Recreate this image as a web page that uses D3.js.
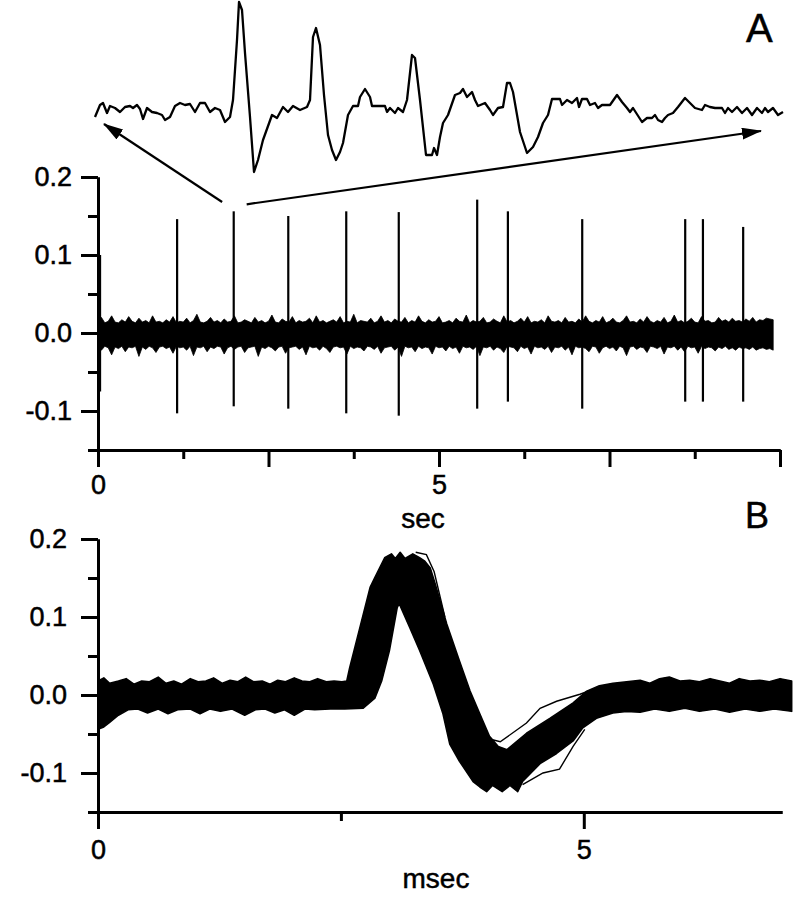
<!DOCTYPE html>
<html>
<head>
<meta charset="utf-8">
<script src="https://d3js.org/d3.v7.min.js"></script>
<style>
body { margin: 0; background: #fff; }
text { font-family: "Liberation Sans", Arial, sans-serif; fill: #000; stroke: #000; stroke-width: 0.5px; }
</style>
</head>
<body>
<div id="fig"></div>
<script>

// ---- panel A: spikes in the raw trace (sec, peak, trough) ----
var spikeTimes = [0.03, 1.16, 1.99, 2.79, 3.64, 4.41, 5.56, 6.01, 7.10, 8.61, 8.87, 9.46];
var spikeMax   = [0.100, 0.146, 0.156, 0.150, 0.156, 0.155, 0.171, 0.156, 0.146, 0.146, 0.146, 0.136];
var spikeMin   = [-0.075, -0.103, -0.094, -0.097, -0.103, -0.106, -0.097, -0.088, -0.097, -0.088, -0.088, -0.088];

// background noise band, one value every 0.05 sec, units of 0.001
var noiseStep = 0.05;
var noiseTop = [
  14,20,13,15,22,14,13,17,14,21,15,13,19,14,16,13,22,14,15,13,
  17,14,21,13,15,14,19,13,16,24,14,13,15,20,14,16,13,18,14,15,
  22,13,14,17,15,13,20,14,16,13,15,23,14,13,18,15,14,21,13,16,
  14,15,19,13,22,14,16,13,15,17,14,21,13,15,14,24,13,16,15,14,
  19,13,15,22,14,16,13,18,15,14,20,13,16,14,22,15,13,17,14,15,
  21,13,14,16,13,19,15,14,23,13,16,14,15,20,13,14,18,15,13,22,
  14,16,13,15,19,14,21,13,15,14,17,13,22,15,14,16,13,20,14,15,
  13,18,14,22,15,13,16,14,21,13,15,19,14,13,16,22,14,15,13,18,
  14,21,15,13,16,14,20,13,15,23,14,16,13,15,19,14,13,21,15,16,
  13,14,20,15,17,14,19,15,16,14,18,15,20,14,17,16,19,18,17];
var noiseBottom = [
  -18,-22,-17,-19,-28,-18,-20,-17,-24,-18,-19,-17,-30,-18,-21,-17,-19,-25,-18,-17,
  -20,-18,-26,-17,-19,-18,-22,-17,-29,-18,-19,-17,-24,-18,-20,-17,-18,-27,-19,-17,
  -21,-18,-17,-25,-19,-18,-17,-30,-18,-20,-17,-19,-23,-18,-17,-26,-19,-18,-17,-21,
  -18,-28,-17,-19,-18,-22,-17,-20,-25,-18,-17,-19,-18,-27,-17,-20,-18,-19,-23,-17,
  -18,-21,-17,-26,-19,-18,-17,-22,-18,-30,-17,-19,-18,-24,-17,-20,-18,-19,-27,-17,
  -19,-18,-23,-17,-20,-18,-26,-17,-19,-18,-21,-17,-29,-18,-19,-17,-22,-18,-20,-25,
  -17,-18,-19,-24,-17,-20,-18,-27,-17,-19,-18,-21,-17,-25,-18,-19,-17,-22,-18,-28,
  -17,-19,-18,-20,-24,-17,-18,-26,-19,-17,-20,-18,-23,-17,-19,-29,-18,-17,-21,-18,
  -19,-25,-17,-18,-20,-17,-27,-18,-19,-17,-22,-18,-24,-17,-19,-18,-26,-17,-20,-18,
  -19,-23,-18,-20,-17,-21,-19,-22,-18,-20,-19,-21,-18,-22,-20,-19,-21,-20,-22];

// expanded piece of the trace shown above panel A (ms, arbitrary units)
var insetTime = [
  0.0,0.5,0.8,1.2,1.5,2.0,2.5,3.0,3.5,3.8,4.2,4.5,4.8,5.2,5.7,6.2,6.7,7.0,7.5,8.0,
  8.5,9.0,9.5,10.0,10.5,11.0,11.5,12.0,12.5,13.0,13.5,13.8,14.2,14.4,14.7,15.0,15.5,15.9,16.3,16.8,
  17.7,18.2,18.8,19.3,19.8,20.5,21.2,21.5,21.8,22.1,22.5,22.9,23.3,23.7,24.1,24.5,24.8,25.3,25.8,26.3,
  26.5,27.0,27.5,27.7,29.0,29.2,29.5,30.0,30.3,30.8,31.2,31.7,32.0,32.5,33.1,33.7,33.9,34.2,34.5,34.8,
  35.3,36.0,36.5,36.8,37.2,37.7,38.0,38.3,39.0,39.5,39.8,40.3,40.8,41.2,41.5,41.8,42.5,43.2,43.8,44.3,
  44.8,45.3,45.7,46.5,46.7,47.2,47.7,48.2,48.4,48.7,49.2,49.5,50.0,50.3,50.7,51.5,52.2,52.7,53.2,53.5,
  53.8,54.7,55.2,55.7,56.0,56.3,56.7,57.0,57.3,57.8,58.3,59.0,59.5,60.0,60.7,61.0,61.5,62.0,62.7,63.0,
  63.3,63.7,64.2,64.7,65.2,65.7,66.2,66.7,67.0,67.3,67.8,68.3,68.8];
var insetValue = [
  -9,3,5,-5,2,0,-4,1,2,0,3,-1,-11,0,-4,-5,-7,-12,-9,2,
  5,3,4,-4,5,5,-4,0,-2,-14,-9,8,68,106,98,55,-9,-64,-52,-32,
  -7,-10,1,-4,2,-2,1,8,71,80,63,13,-27,-42,-52,-44,-35,-7,2,2,
  11,19,11,2,2,-4,0,-5,0,-4,8,53,50,8,-47,-47,-40,-47,-29,-15,
  -7,13,15,19,11,16,8,2,5,-2,-7,0,1,25,25,16,-24,-45,-39,-29,
  -15,-7,9,9,3,8,5,10,1,9,9,3,5,0,3,3,13,6,0,-4,
  0,-14,-10,-10,-7,-12,-14,-10,-7,-5,1,10,5,0,-2,3,1,0,0,-5,
  0,-4,1,-5,0,-7,0,-5,0,-4,0,-7,-4];

// ---- panel B: envelope of the superimposed waveforms (msec, units of 0.001) ----
var bandTopTime = [
  0.00,0.06,0.12,0.21,0.29,0.37,0.45,0.53,0.62,0.70,0.78,0.86,0.95,1.03,1.11,1.19,1.28,1.36,1.44,1.52,
  1.60,1.69,1.77,1.85,1.93,2.02,2.10,2.18,2.26,2.35,2.43,2.51,2.56,2.59,2.70,2.80,2.85,2.95,3.02,3.06,
  3.11,3.16,3.24,3.31,3.36,3.42,3.47,3.59,3.72,3.83,3.93,4.03,4.12,4.21,4.41,4.65,4.89,5.03,5.16,5.30,
  5.44,5.58,5.68,5.78,5.88,5.99,6.09,6.19,6.30,6.40,6.50,6.60,6.71,6.81,6.91,7.02,7.14];
var bandTopValue = [
  18,22,15,18,21,14,18,17,23,15,18,14,21,17,18,22,15,19,17,23,
  17,18,14,19,17,22,18,17,21,17,18,17,18,35,89,138,151,176,181,175,
  183,175,181,176,172,163,143,91,44,5,-24,-53,-66,-70,-49,-30,-10,5,12,15,
  17,19,15,21,23,18,19,17,21,18,15,21,18,19,17,21,18];
var bandBottomTime = [
  0.00,0.06,0.12,0.21,0.31,0.41,0.51,0.62,0.72,0.82,0.95,1.05,1.15,1.26,1.38,1.51,1.62,1.72,1.82,1.92,
  2.02,2.13,2.23,2.39,2.54,2.73,2.85,2.92,3.00,3.08,3.10,3.21,3.31,3.45,3.55,3.62,3.72,3.86,3.93,4.00,
  4.06,4.16,4.24,4.32,4.37,4.55,4.72,4.89,4.99,5.13,5.30,5.44,5.58,5.73,5.88,6.04,6.19,6.35,6.50,6.66,
  6.81,6.96,7.14];
var bandBottomValue = [
  -44,-41,-35,-26,-19,-18,-23,-18,-24,-19,-18,-24,-18,-21,-18,-26,-19,-18,-23,-19,
  -26,-18,-19,-18,-18,-17,-4,18,57,112,117,86,57,14,-24,-63,-85,-111,-118,-124,
  -116,-124,-116,-124,-111,-88,-75,-59,-42,-30,-23,-21,-22,-18,-21,-17,-21,-18,-22,-18,
  -21,-18,-21];

// single traces that stand out of the bundle
var strayPeakTime  = [3.27, 3.38, 3.46, 3.57];
var strayPeakValue = [183, 180, 158, 100];
var strayHighTime  = [4.05, 4.14, 4.41, 4.55, 4.72, 4.96, 5.16];
var strayHighValue = [-57, -60, -36, -17, -8, 1, 10];
var strayLowTime   = [4.37, 4.58, 4.75, 4.89, 5.01];
var strayLowValue  = [-115, -100, -95, -66, -44];

// ticks
var yTicks = [-0.1, 0, 0.1, 0.2];
var yMinor = [-0.15, -0.05, 0.05, 0.15];
var secMajor = [0, 2.5, 5, 7.5, 10];
var secMinor = [1.25, 3.75, 6.25, 8.75];
var secLabels = [0, 5];
var msMajor = [0, 5];
var msMinor = [2.5];
var msLabels = [0, 5];

var font = "Liberation Sans, Arial, sans-serif";

var svg = d3.select("#fig")
  .append("svg")
    .attr("width", 800)
    .attr("height", 900);

// scales
var xA = d3.scaleLinear().domain([0, 10]).range([98, 780]);
var yA = d3.scaleLinear().domain([-0.15, 0.2]).range([450, 177]);
var xB = d3.scaleLinear().domain([0, 7.04]).range([98, 782]);
var yB = d3.scaleLinear().domain([-0.15, 0.2]).range([812, 539]);
var xIn = d3.scaleLinear().domain([0, 69]).range([95, 785]);
var yIn = d3.scaleLinear().domain([0, 100]).range([108, 8]);

// arrow head
svg.append("defs").append("marker")
    .attr("id", "head")
    .attr("viewBox", "0 0 20 12")
    .attr("refX", 19)
    .attr("refY", 6)
    .attr("markerWidth", 20)
    .attr("markerHeight", 12)
    .attr("markerUnits", "userSpaceOnUse")
    .attr("orient", "auto")
  .append("path")
    .attr("d", "M0,0L20,6L0,12Z")
    .attr("fill", "#000");

// ---------- panel A ----------
// noise band
var noise = d3.area()
  .x(function(d, i) { return xA(i * noiseStep); })
  .y0(function(d, i) { return yA(noiseBottom[i] / 1000); })
  .y1(function(d) { return yA(d / 1000); });

svg.append("path")
  .datum(noiseTop)
  .attr("d", noise)
  .attr("fill", "#000")
  .attr("stroke", "#000")
  .attr("stroke-width", 0.8);

// spikes
svg.selectAll(".spike")
  .data(spikeTimes)
  .enter()
  .append("line")
    .attr("class", "spike")
    .attr("x1", function(d) { return xA(d); })
    .attr("x2", function(d) { return xA(d); })
    .attr("y1", function(d, i) { return yA(spikeMax[i]); })
    .attr("y2", function(d, i) { return yA(spikeMin[i]); })
    .attr("stroke", "#000")
    .attr("stroke-width", 2.2);

function styleAxis(g, size) {
  g.attr("font-size", size).attr("font-family", font);
  g.select(".domain").attr("stroke-width", 3);
  g.selectAll(".tick line").attr("stroke-width", 3);
  g.selectAll(".tick text").attr("fill", "#000");
}

function yAxes(scale, pad) {
  var gMinor = svg.append("g")
    .attr("transform", "translate(98,0)")
    .call(d3.axisLeft(scale).tickValues(yMinor).tickSize(10).tickSizeOuter(0).tickFormat(""));
  styleAxis(gMinor, 27);
  var gMajor = svg.append("g")
    .attr("transform", "translate(98,0)")
    .call(d3.axisLeft(scale).tickValues(yTicks).tickSize(17).tickSizeOuter(0)
      .tickPadding(pad)
      .tickFormat(function(d) { return d.toFixed(1); }));
  styleAxis(gMajor, 27);
}

function xAxes(scale, yPos, major, minor, labels, pad) {
  var gMinor = svg.append("g")
    .attr("transform", "translate(0," + yPos + ")")
    .call(d3.axisBottom(scale).tickValues(minor).tickSize(9).tickSizeOuter(0).tickFormat(""));
  styleAxis(gMinor, 27);
  var gMajor = svg.append("g")
    .attr("transform", "translate(0," + yPos + ")")
    .call(d3.axisBottom(scale).tickValues(major).tickSize(17).tickSizeOuter(0)
      .tickPadding(pad)
      .tickFormat(function(d) { return labels.indexOf(d) >= 0 ? d : ""; }));
  styleAxis(gMajor, 27);
}

yAxes(yA, 9);
xAxes(xA, 450, secMajor, secMinor, secLabels, 8);

svg.append("text")
  .attr("x", 423)
  .attr("y", 528)
  .attr("text-anchor", "middle")
  .attr("font-size", 28)
  .text("sec");

svg.append("text")
  .attr("x", 746)
  .attr("y", 42)
  .attr("font-size", 40)
  .text("A");

// inset trace
var insetLine = d3.line()
  .x(function(d, i) { return xIn(insetTime[i]); })
  .y(function(d) { return yIn(d); });

svg.append("path")
  .datum(insetValue)
  .attr("d", insetLine)
  .attr("fill", "none")
  .attr("stroke", "#000")
  .attr("stroke-width", 2.3)
  .attr("stroke-linejoin", "round");

// arrows from the expanded spike to the ends of the inset
svg.append("line")
  .attr("x1", xA(1.82)).attr("y1", yA(0.168))
  .attr("x2", xIn(0.9)).attr("y2", yIn(-16))
  .attr("stroke", "#000")
  .attr("stroke-width", 2.2)
  .attr("marker-end", "url(#head)");

svg.append("line")
  .attr("x1", xA(2.18)).attr("y1", yA(0.165))
  .attr("x2", xIn(66.6)).attr("y2", yIn(-23))
  .attr("stroke", "#000")
  .attr("stroke-width", 2.2)
  .attr("marker-end", "url(#head)");

// ---------- panel B ----------
var bandPoints = bandTopTime.map(function(t, i) { return [t, bandTopValue[i]]; })
  .concat(bandBottomTime.map(function(t, i) { return [t, bandBottomValue[i]]; }).reverse());

var bandLine = d3.line()
  .x(function(d) { return xB(d[0]); })
  .y(function(d) { return yB(d[1] / 1000); })
  .curve(d3.curveLinearClosed);

svg.append("path")
  .datum(bandPoints)
  .attr("d", bandLine)
  .attr("fill", "#000")
  .attr("stroke", "#000")
  .attr("stroke-width", 1.5)
  .attr("stroke-linejoin", "round");

var strayLine = d3.line()
  .x(function(d) { return xB(d[0]); })
  .y(function(d) { return yB(d[1] / 1000); });

[[strayPeakTime, strayPeakValue], [strayHighTime, strayHighValue], [strayLowTime, strayLowValue]]
  .forEach(function(s) {
    svg.append("path")
      .datum(s[0].map(function(t, i) { return [t, s[1][i]]; }))
      .attr("d", strayLine)
      .attr("fill", "none")
      .attr("stroke", "#000")
      .attr("stroke-width", 1.4);
  });

yAxes(yB, 14);
xAxes(xB, 812, msMajor, msMinor, msLabels, 11);

svg.append("text")
  .attr("x", 436)
  .attr("y", 888)
  .attr("text-anchor", "middle")
  .attr("font-size", 28)
  .text("msec");

svg.append("text")
  .attr("x", 745)
  .attr("y", 528)
  .attr("font-size", 36)
  .text("B");

</script>
</body>
</html>
